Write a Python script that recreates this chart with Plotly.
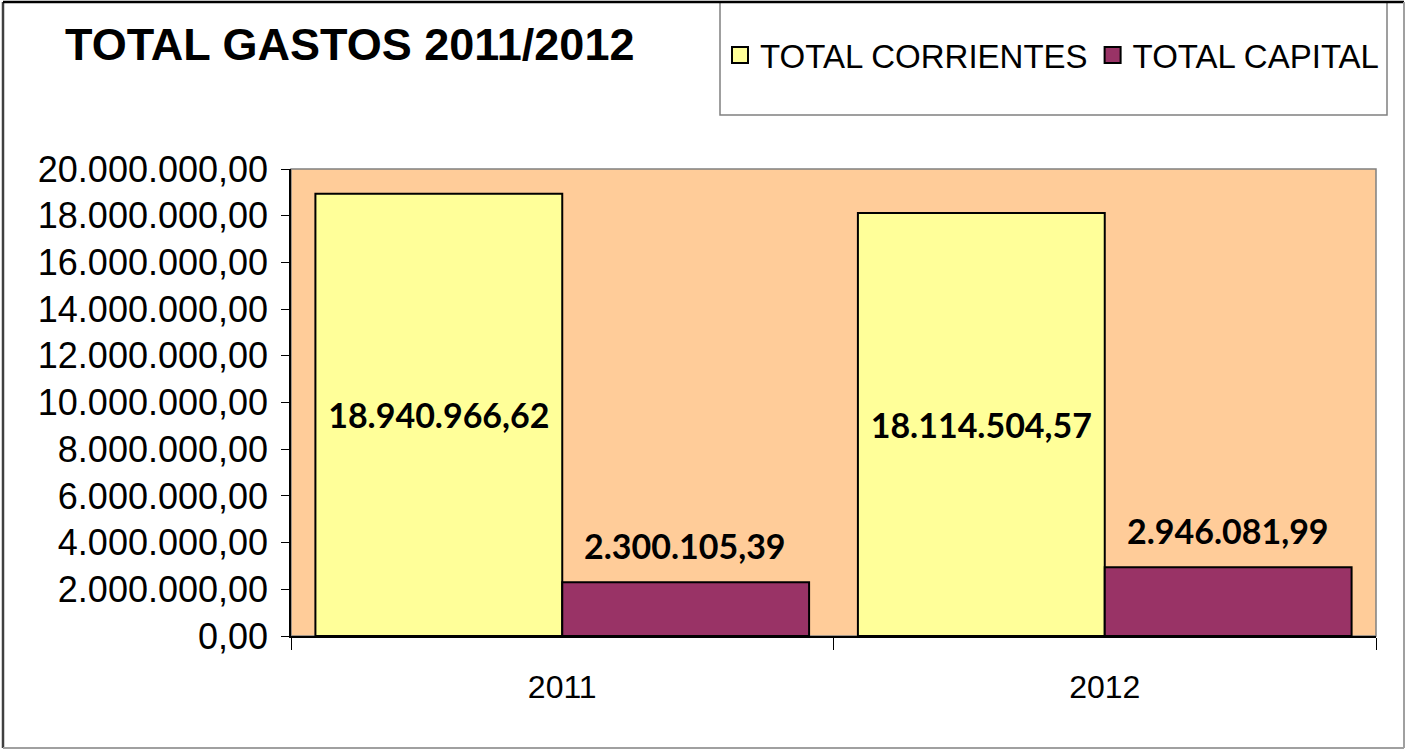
"""
Total gastos 2011/2012: corrientes vs capital, grouped bars (Excel look).
"""

import plotly.graph_objects as go

YEARS = ["2011", "2012"]
TOTAL_CORRIENTES = [18940966.62, 18114504.57]
TOTAL_CAPITAL = [2300105.39, 2946081.99]

Y_MAX = 20000000
Y_STEP = 2000000

W, H = 1406, 750
# plot area in pixels
PL, PR, PT, PB = 291, 1376, 169, 636


def px_x(x):
    return (x - PL) / (PR - PL)


def px_y(y):
    return (PB - y) / (PB - PT)


def es_num(v):
    # 1234567.8 -> "1.234.567,80"
    return f"{v:,.2f}".replace(",", "X").replace(".", ",").replace("X", ".")


AX_FONT = "Liberation Sans, Arial, sans-serif"
LBL_FONT = "Lato, Carlito, Calibri, sans-serif"
COL_CORR = "#FFFF99"
COL_CAP = "#993366"

fig = go.Figure()

fig.add_trace(go.Bar(
    name="TOTAL CORRIENTES",
    x=YEARS,
    y=TOTAL_CORRIENTES,
    marker=dict(color=COL_CORR, line=dict(color="#000000", width=2)),
    texttemplate="%{y:,.2f}",
    textposition="inside",
    insidetextanchor="middle",
    textfont=dict(family=LBL_FONT, size=34, color="#000000", weight="bold"),
    showlegend=False,
    hoverinfo="skip",
))

fig.add_trace(go.Bar(
    name="TOTAL CAPITAL",
    x=YEARS,
    y=TOTAL_CAPITAL,
    marker=dict(color=COL_CAP, line=dict(color="#000000", width=2)),
    showlegend=False,
    hoverinfo="skip",
))

# legend entries with bigger square swatches
for name, col in [("TOTAL CORRIENTES", COL_CORR), ("TOTAL CAPITAL", COL_CAP)]:
    fig.add_trace(go.Scatter(
        name=name, x=[None], y=[None], mode="markers",
        marker=dict(symbol="square", size=16, color=col,
                    line=dict(color="#000000", width=2)),
        hoverinfo="skip",
    ))

# capital labels sit well above their bars
for i, val in enumerate(TOTAL_CAPITAL):
    fig.add_annotation(
        x=i, y=val, xref="x", yref="y",
        text=es_num(val),
        showarrow=False, xshift=123, yshift=14, yanchor="bottom",
        font=dict(family=LBL_FONT, size=34, color="#000000", weight="bold"),
    )

shapes = [
    # plot area border
    dict(type="rect", xref="paper", yref="paper", x0=0, x1=1, y0=0, y1=1,
         line=dict(color="#808080", width=1.5), layer="below"),
    # legend box
    dict(type="rect", xref="paper", yref="paper",
         x0=px_x(720), x1=px_x(1387), y0=px_y(115), y1=px_y(2),
         line=dict(color="#808080", width=1.5)),
    # outer chart border: dark left/top, light right/bottom
    dict(type="line", xref="paper", yref="paper",
         x0=px_x(3), x1=px_x(3), y0=px_y(748), y1=px_y(2),
         line=dict(color="#404040", width=2.5)),
    dict(type="line", xref="paper", yref="paper",
         x0=px_x(3), x1=px_x(1404), y0=px_y(2), y1=px_y(2),
         line=dict(color="#000000", width=2.5)),
    dict(type="line", xref="paper", yref="paper",
         x0=px_x(1404), x1=px_x(1404), y0=px_y(748), y1=px_y(2),
         line=dict(color="#A0A0A0", width=2)),
    dict(type="line", xref="paper", yref="paper",
         x0=px_x(3), x1=px_x(1404), y0=px_y(748), y1=px_y(748),
         line=dict(color="#A0A0A0", width=2)),
]

fig.update_layout(
    width=W, height=H,
    separators=",.",
    barmode="group",
    bargap=0.09,
    bargroupgap=0,
    paper_bgcolor="#FFFFFF",
    plot_bgcolor="#FFCC99",
    margin=dict(l=PL, r=W - PR, t=PT, b=H - PB, autoexpand=False),
    font=dict(family=AX_FONT, color="#000000"),
    title=dict(
        text="<b>TOTAL GASTOS 2011/2012</b>",
        xref="container", yref="container",
        x=65 / W, xanchor="left", y=1 - 44 / H, yanchor="middle",
        font=dict(family=AX_FONT, size=45, color="#000000"),
    ),
    legend=dict(
        orientation="h",
        x=px_x(720), xanchor="left",
        y=px_y(55), yanchor="middle",
        font=dict(family=AX_FONT, size=33, color="#000000"),
        bgcolor="rgba(0,0,0,0)",
        itemwidth=30,
        traceorder="normal",
    ),
    xaxis=dict(
        type="category",
        range=[-0.5, 1.5],
        showgrid=False,
        showline=True, linecolor="#000000", linewidth=1.5,
        ticks="outside", tickson="boundaries", ticklen=12,
        tickcolor="#000000", tickwidth=1,
        tickfont=dict(size=32),
        ticklabelstandoff=22,
        fixedrange=True,
    ),
    yaxis=dict(
        range=[0, Y_MAX],
        dtick=Y_STEP,
        tickformat=",.2f",
        showgrid=False, zeroline=False,
        showline=True, linecolor="#000000", linewidth=1.5,
        ticks="outside", ticklen=8, tickcolor="#000000", tickwidth=1,
        tickfont=dict(size=36),
        ticklabelstandoff=6,
        fixedrange=True,
    ),
    shapes=shapes,
)

# drop the default 8px body margin so the figure sits at the page corner
fig.write_html("out.html", config={"displayModeBar": False},
               post_script="document.body.style.margin='0';")
